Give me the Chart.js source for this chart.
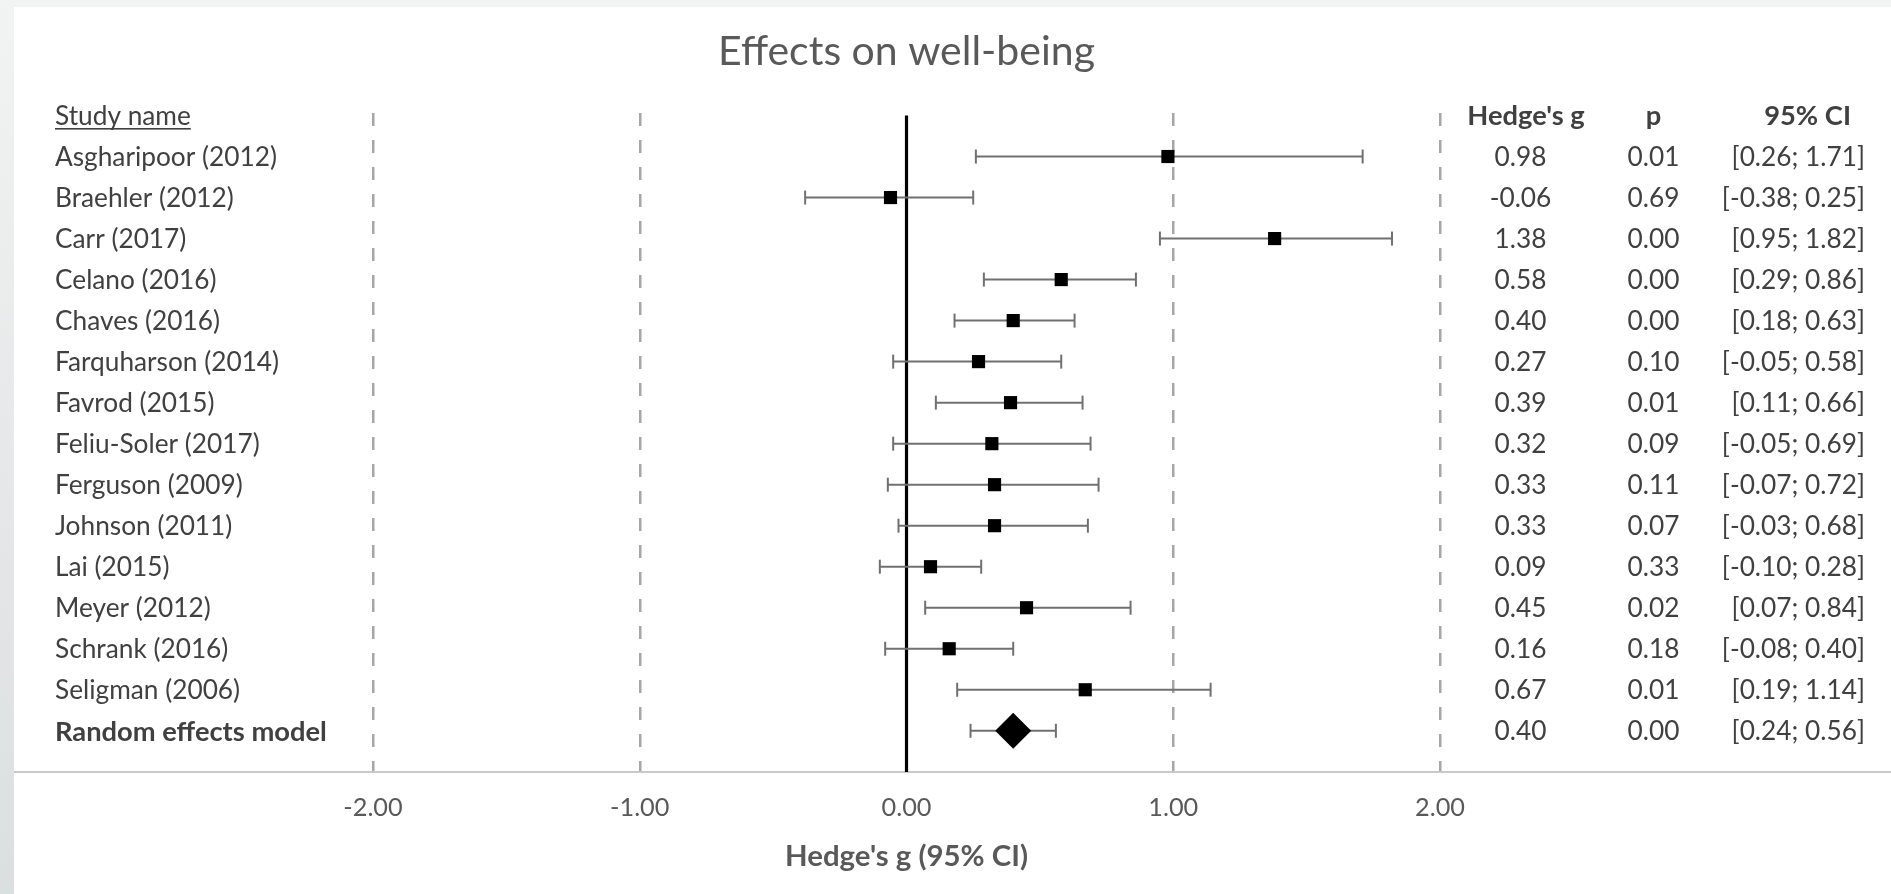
<!DOCTYPE html>
<html>
<head>
<meta charset="utf-8">
<script src="https://cdn.jsdelivr.net/npm/chart.js@4.4.1/dist/chart.umd.min.js"></script>
<style>
html, body { margin:0; padding:0; width:1891px; height:894px; overflow:hidden;
  background: linear-gradient(to bottom, #f2f3f3, #dadfdf); }
#panel { position:absolute; left:14px; top:7px; right:0; bottom:0; background:#ffffff; }
#c { position:absolute; left:0; top:0; display:block; }
</style>
</head>
<body>
<div id="panel"></div>
<canvas id="c" width="1891" height="894"></canvas>
<script>
// ---------------- data ----------------
const studyNames = ['Asgharipoor (2012)', 'Braehler (2012)', 'Carr (2017)', 'Celano (2016)', 'Chaves (2016)',
  'Farquharson (2014)', 'Favrod (2015)', 'Feliu-Soler (2017)', 'Ferguson (2009)', 'Johnson (2011)',
  'Lai (2015)', 'Meyer (2012)', 'Schrank (2016)', 'Seligman (2006)'];
const hedgesG = [0.98, -0.06, 1.38, 0.58, 0.40, 0.27, 0.39, 0.32, 0.33, 0.33, 0.09, 0.45, 0.16, 0.67];
const pValues = [0.01, 0.69, 0.00, 0.00, 0.00, 0.10, 0.01, 0.09, 0.11, 0.07, 0.33, 0.02, 0.18, 0.01];
const ciLower = [0.26, -0.38, 0.95, 0.29, 0.18, -0.05, 0.11, -0.05, -0.07, -0.03, -0.10, 0.07, -0.08, 0.19];
const ciUpper = [1.71, 0.25, 1.82, 0.86, 0.63, 0.58, 0.66, 0.69, 0.72, 0.68, 0.28, 0.84, 0.40, 1.14];
const pooledName = 'Random effects model';
const pooledG = 0.40;
const pooledP = 0.00;
const pooledLower = 0.24;
const pooledUpper = 0.56;
const nullEffect = 0;
const xTicks = [-2, -1, 0, 1, 2];
const headerLabels = ['Study name', "Hedge's g", 'p', '95% CI'];
const chartTitle = 'Effects on well-being';
const xAxisTitle = "Hedge's g (95% CI)";

// ---------------- styling / layout ----------------
const FONT = 'Lato, "Open Sans", sans-serif';
const TEXT_DARK = '#404040', TEXT_GREY = '#595959';
const CI_GREY = '#707070';
function fitSize(text, weight, target) {
  const c = document.createElement('canvas').getContext('2d');
  c.font = weight + ' 100px ' + FONT;
  return 100 * target / c.measureText(text).width;
}
const bodySize = fitSize('Asgharipoor (2012)', 400, 222);
const boldSize = fitSize('Random effects model', 700, 272);
const tickSize = fitSize('0.00', 400, 50);
const titleSize = fitSize(chartTitle, 400, 377);
const axisTitleSize = fitSize(xAxisTitle, 700, 243);

const X_MIN = -3.3421, X_MAX = 3.6907;
const Y_MIN = -0.061, Y_MAX = 16.005;
const PLOT_TOP = 113, PLOT_BOTTOM = 772, PLOT_LEFT = 15;
const tickPad = 36 - 0.6 * tickSize;
const TEXT_SHIFT = 1;

const COL_NAME = 55, COL_G = 1520.5, COL_G_HEAD = 1526, COL_P = 1653.5, COL_CI = 1865, COL_CI_HEAD = 1851;
const TITLE_Y = 51.5, AXIS_TITLE_Y = 857;

// ---------------- derived series ----------------
const allG = hedgesG.concat([pooledG]);
const allP = pValues.concat([pooledP]);
const allLower = ciLower.concat([pooledLower]);
const allUpper = ciUpper.concat([pooledUpper]);
const allNames = studyNames.concat([pooledName]);
const nStudies = studyNames.length;

const markerDataset = {
  data: allG.map((g, i) => ({ x: g, y: i + 1 })),
  showLine: false,
  pointStyle: allG.map((_, i) => i < nStudies ? 'rect' : 'rectRot'),
  pointRadius: allG.map((_, i) => i < nStudies ? 9.3 : 18),
  pointHoverRadius: allG.map((_, i) => i < nStudies ? 9.3 : 18),
  backgroundColor: '#000000',
  borderColor: '#000000',
  borderWidth: 0,
  pointBorderWidth: 0
};
const ciDatasets = allLower.map((lo, i) => ({
  data: [{ x: lo, y: i + 1 }, { x: allUpper[i], y: i + 1 }],
  showLine: true,
  borderColor: CI_GREY,
  borderWidth: 2,
  pointStyle: 'line',
  pointRotation: 90,
  pointRadius: 7,
  pointHoverRadius: 7,
  pointBorderColor: CI_GREY,
  pointBorderWidth: 2
}));
const nullLineDataset = {
  data: [{ x: nullEffect, y: 0 }, { x: nullEffect, y: Y_MAX }],
  showLine: true,
  borderColor: '#000000',
  borderWidth: 3.2,
  pointRadius: 0,
  pointHoverRadius: 0
};

const f = (w, s) => w + ' ' + s + 'px ' + FONT;

const tablePlugin = {
  id: 'forestTable',
  afterDraw(chart) {
    const { ctx } = chart;
    const x = chart.scales.x, y = chart.scales.y;
    ctx.save();
    ctx.textBaseline = 'middle';
    const cx = (x.getPixelForValue(xTicks[0]) + x.getPixelForValue(xTicks[xTicks.length - 1])) / 2;
    // titles
    ctx.fillStyle = TEXT_GREY;
    ctx.textAlign = 'center';
    ctx.font = f(400, titleSize);
    ctx.fillText(chartTitle, cx, TITLE_Y);
    ctx.font = f(700, axisTitleSize);
    ctx.fillText(xAxisTitle, cx, AXIS_TITLE_Y);
    // header row
    const hy = y.getPixelForValue(0) + TEXT_SHIFT;
    ctx.fillStyle = TEXT_DARK;
    ctx.textAlign = 'left';
    ctx.font = f(400, bodySize);
    ctx.fillText(headerLabels[0], COL_NAME, hy);
    const uw = ctx.measureText(headerLabels[0]).width;
    ctx.fillRect(COL_NAME, hy + 11.5, uw, 1.6);
    ctx.font = f(700, boldSize);
    ctx.textAlign = 'center';
    ctx.fillText(headerLabels[1], COL_G_HEAD, hy);
    ctx.fillText(headerLabels[2], COL_P, hy);
    ctx.textAlign = 'right';
    ctx.fillText(headerLabels[3], COL_CI_HEAD, hy);
    // rows
    allNames.forEach((name, i) => {
      const ry = y.getPixelForValue(i + 1) + TEXT_SHIFT;
      ctx.textAlign = 'left';
      ctx.font = i < nStudies ? f(400, bodySize) : f(700, boldSize);
      ctx.fillText(name, COL_NAME, ry);
      ctx.font = f(400, bodySize);
      ctx.textAlign = 'center';
      ctx.fillText(allG[i].toFixed(2), COL_G, ry);
      ctx.fillText(allP[i].toFixed(2), COL_P, ry);
      ctx.textAlign = 'right';
      ctx.fillText('[' + allLower[i].toFixed(2) + '; ' + allUpper[i].toFixed(2) + ']', COL_CI, ry);
    });
    ctx.restore();
  }
};

new Chart(document.getElementById('c'), {
  type: 'scatter',
  data: { datasets: [markerDataset].concat(ciDatasets, [nullLineDataset]) },
  options: {
    responsive: false,
    animation: false,
    devicePixelRatio: 1,
    events: [],
    layout: { autoPadding: false, padding: { top: PLOT_TOP, left: PLOT_LEFT, right: 0, bottom: 0 } },
    plugins: { legend: { display: false }, tooltip: { enabled: false }, title: { display: false } },
    scales: {
      x: {
        type: 'linear', position: 'bottom', min: X_MIN, max: X_MAX, bounds: 'data',
        afterBuildTicks: axis => { axis.ticks = xTicks.map(v => ({ value: v })); },
        afterFit: axis => { axis.height = 894 - PLOT_BOTTOM; },
        ticks: { padding: tickPad, color: TEXT_GREY, font: { family: FONT, size: tickSize, weight: 400 },
          callback: v => Number(v).toFixed(2), maxRotation: 0, autoSkip: false },
        grid: { drawTicks: false, lineWidth: 2.5,
          color: c => (c.tick && c.tick.value === nullEffect) ? 'rgba(0,0,0,0)' : '#a6a6a6' },
        border: { display: true, color: '#c9c9c9', width: 2, dash: [13, 14] }
      },
      y: { type: 'linear', display: false, reverse: true, min: Y_MIN, max: Y_MAX, bounds: 'data' }
    }
  },
  plugins: [tablePlugin]
});
</script>
</body>
</html>
